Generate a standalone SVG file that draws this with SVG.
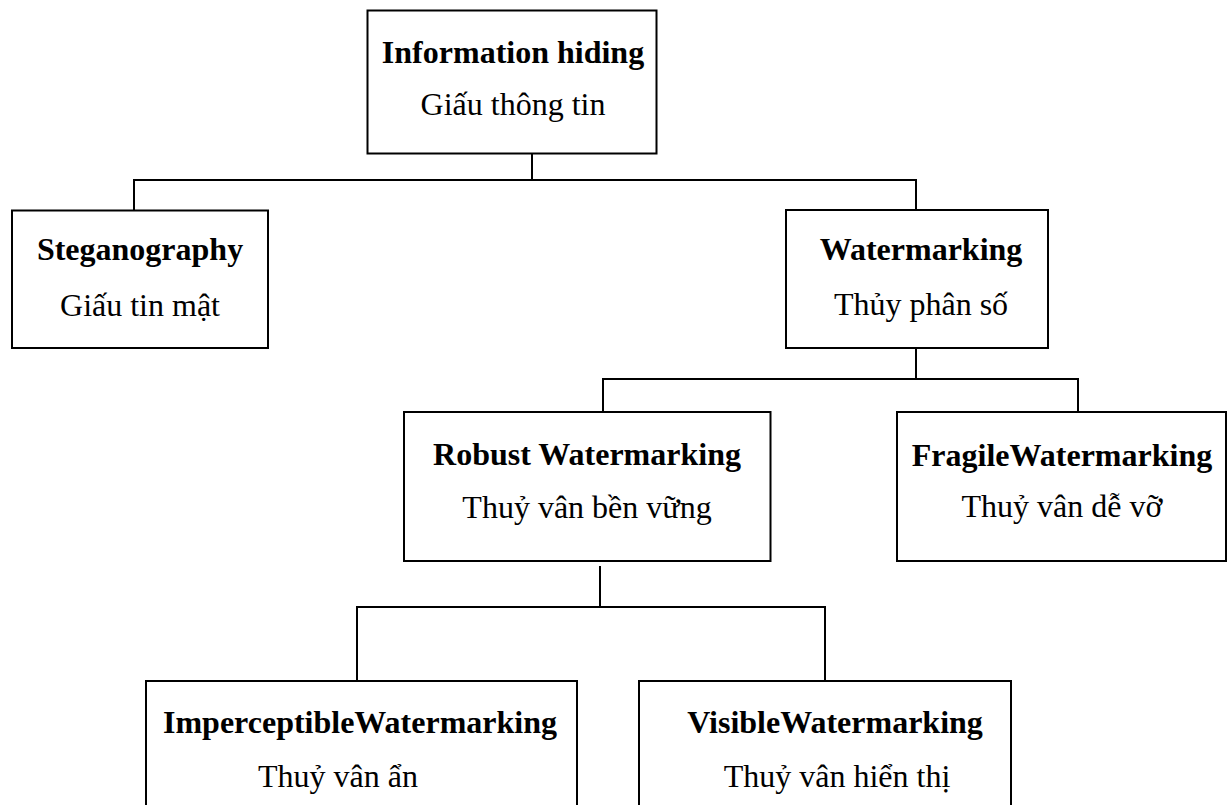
<svg xmlns="http://www.w3.org/2000/svg" width="1232" height="805" viewBox="0 0 1232 805">
  <style>
    .box { fill: #ffffff; stroke: #000000; stroke-width: 2; }
    .link { fill: none; stroke: #000000; stroke-width: 2; }
    text { font-family: "Liberation Serif", "Times New Roman", serif; font-size: 32px; fill: #000000; text-anchor: middle; }
    .title { font-weight: bold; }
  </style>
  <rect width="1232" height="805" fill="#ffffff"/>

  <!-- tree connectors -->
  <g id="connectors">
    <path class="link" d="M532 153 V180 M134 210 V180 H916 V210"/>
    <path class="link" d="M916 348 V379 M603 412 V379 H1078 V412"/>
    <path class="link" d="M600 566 V607 M357 681 V607 H825 V681"/>
  </g>

  <g id="information-hiding">
    <rect class="box" x="367.5" y="10.5" width="289" height="143"/>
    <text class="title" x="513" y="63">Information hiding</text>
    <text x="513" y="115">Giấu thông tin</text>
  </g>

  <g id="steganography">
    <rect class="box" x="12" y="210.5" width="256" height="137.5"/>
    <text class="title" x="140" y="260">Steganography</text>
    <text x="140" y="316">Giấu tin mật</text>
  </g>

  <g id="watermarking">
    <rect class="box" x="786" y="210" width="262" height="138"/>
    <text class="title" x="921" y="260">Watermarking</text>
    <text x="921" y="315">Thủy phân số</text>
  </g>

  <g id="robust-watermarking">
    <rect class="box" x="404" y="412" width="366.5" height="149"/>
    <text class="title" x="587" y="465">Robust Watermarking</text>
    <text x="587" y="518">Thuỷ vân bền vững</text>
  </g>

  <g id="fragile-watermarking">
    <rect class="box" x="897" y="412" width="329" height="149"/>
    <text class="title" x="1062" y="466">FragileWatermarking</text>
    <text x="1062" y="517">Thuỷ vân dễ vỡ</text>
  </g>

  <g id="imperceptible-watermarking">
    <rect class="box" x="146" y="681" width="431" height="140"/>
    <text class="title" x="360" y="733">ImperceptibleWatermarking</text>
    <text x="338" y="787">Thuỷ vân ẩn</text>
  </g>

  <g id="visible-watermarking">
    <rect class="box" x="639" y="681" width="372" height="140"/>
    <text class="title" x="835" y="733">VisibleWatermarking</text>
    <text x="837" y="787">Thuỷ vân hiển thị</text>
  </g>
</svg>
